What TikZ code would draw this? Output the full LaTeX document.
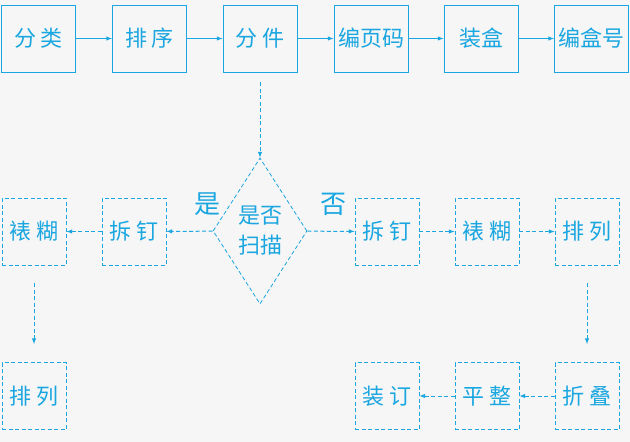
\documentclass[tikz,border=0pt]{standalone}
\usepackage{fontspec}
\newfontfamily\cjk{Noto Sans CJK SC}
\usetikzlibrary{shapes.geometric}
\definecolor{lblue}{RGB}{26,166,224}
\begin{document}
\begin{tikzpicture}[x=1pt,y=1pt,yscale=-1,xscale=1,
  solidbox/.style={draw=lblue,line width=0.8pt,minimum width=74pt,minimum height=67pt,inner sep=0pt,text=lblue,font=\cjk\fontsize{22}{22}\selectfont},
  dashbox/.style={draw=lblue,dash pattern=on 4pt off 2.5pt,line width=0.8pt,minimum width=64pt,minimum height=67pt,inner sep=0pt,text=lblue,font=\cjk\fontsize{22}{22}\selectfont},
  flow/.style={lblue,line width=1pt,-latex},
  dflow/.style={lblue,line width=1pt,dash pattern=on 4pt off 2.5pt,-latex}]
%background
\fill[gray!7] (0,0) rectangle (630,442);

%top row
\node[solidbox] (fl) at (38.5,38.5) {分 类};
\node[solidbox] (px) at (149.5,38.5) {排 序};
\node[solidbox] (fj) at (260,38.5) {分 件};
\node[solidbox] (by) at (371,38.5) {编页码};
\node[solidbox] (zh) at (481,38.5) {装盒};
\node[solidbox] (bh) at (591.5,38.5) {编盒号};
\draw[flow] (fl) -- (px);
\draw[flow] (px) -- (fj);
\draw[flow] (fj) -- (by);
\draw[flow] (by) -- (zh);
\draw[flow] (zh) -- (bh);

%decision
\node[draw=lblue,dash pattern=on 4pt off 2.5pt,line width=0.8pt,diamond,minimum width=94pt,minimum height=146pt,inner sep=0pt,text=lblue,align=center,font=\cjk\fontsize{22}{30}\selectfont] (sm) at (260,231) {是否\\扫描};
\draw[dflow] ([yshift=10]fj.south) -- (sm);
\node[text=lblue,font=\cjk\fontsize{26}{26}\selectfont] (yes) at (207,204) {是};
\node[text=lblue,font=\cjk\fontsize{26}{26}\selectfont] (no) at (333,204) {否};

%left branch
\node[dashbox] (cd1) at (134,231.5) {拆 钉};
\node[dashbox] (bh1) at (34,231.5) {裱 糊};
\node[dashbox] (pl1) at (34,396) {排 列};
\draw[dflow] (sm) -- (cd1);
\draw[dflow] (cd1) -- (bh1);
\draw[dflow] ([yshift=18]bh1.south) -- ([yshift=-18]pl1.north);

%right branch
\node[dashbox] (cd2) at (387,231.5) {拆 钉};
\node[dashbox] (bh2) at (487,231.5) {裱 糊};
\node[dashbox] (pl2) at (587,231.5) {排 列};
\node[dashbox] (zd) at (587,396) {折 叠};
\node[dashbox] (pz) at (487,396) {平 整};
\node[dashbox] (zdg) at (387,396) {装 订};
\draw[dflow] (sm) -- (cd2);
\draw[dflow] (cd2) -- (bh2);
\draw[dflow] (bh2) -- (pl2);
\draw[dflow] ([yshift=18]pl2.south) -- ([yshift=-18]zd.north);
\draw[dflow] (zd) -- (pz);
\draw[dflow] (pz) -- (zdg);
\end{tikzpicture}
\end{document}
